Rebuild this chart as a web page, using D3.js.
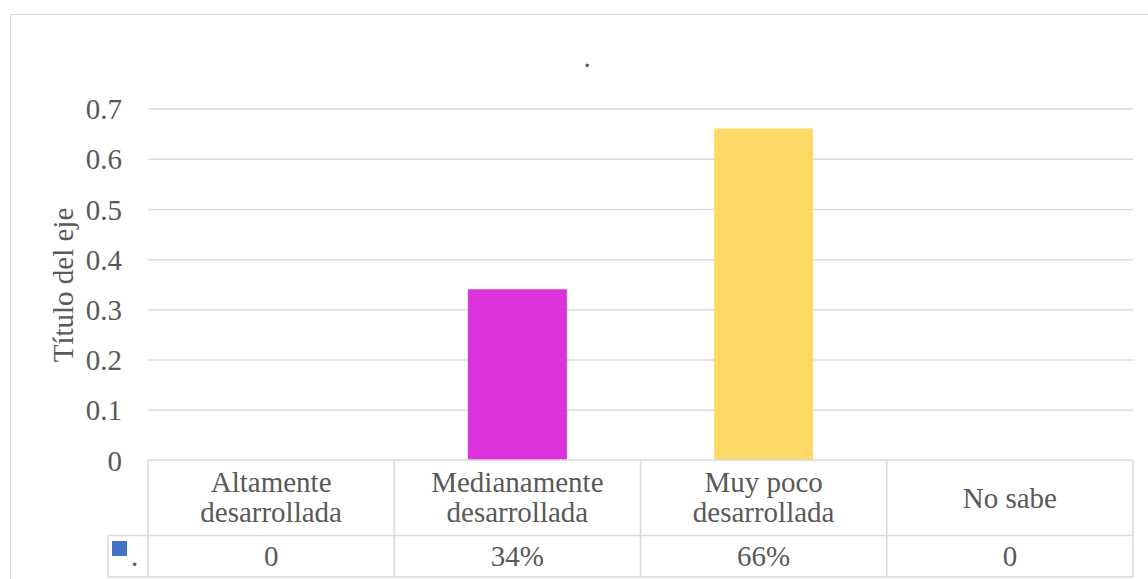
<!DOCTYPE html>
<html>
<head>
<meta charset="utf-8">
<script src="https://cdn.jsdelivr.net/npm/d3@7"></script>
<style>
  html, body { margin: 0; padding: 0; background: #fff; }
  svg text { font-family: "Liberation Serif", "Times New Roman", serif; fill: #595959; }
</style>
</head>
<body>
<svg id="chart" width="1148" height="579"></svg>
<script>
// ---- data ----
const categories = [["Altamente", "desarrollada"], ["Medianamente", "desarrollada"], ["Muy poco", "desarrollada"], ["No sabe"]];
const values = [0, 0.34, 0.66, 0];
const valueLabels = ["0", "34%", "66%", "0"];
const barColors = ["#4472C4", "#DC32DC", "#FFD966", "#A5A5A5"];
const yTicks = [0, 0.1, 0.2, 0.3, 0.4, 0.5, 0.6, 0.7];
const seriesName = ".";
const chartTitle = ".";
const yAxisTitle = "Título del eje";
const legendColor = "#4472C4";

// ---- layout ----
const svg = d3.select("#chart");
const W = 1148, H = 579;
const plot = { left: 148, right: 1133, top: 108.5, bottom: 460 };
const tableRow1Bottom = 535.5, tableBottom = 577, legendLeft = 108;
const fontSize = 29;
const grid = "#d9d9d9";
const serif = "'Liberation Serif', 'Times New Roman', serif";

// outer border
svg.append("rect").attr("x", 10.5).attr("y", 14.5).attr("width", W - 10).attr("height", H)
  .attr("fill", "none").attr("stroke", grid).attr("stroke-width", 1);

const x = d3.scaleBand().domain(d3.range(categories.length)).range([plot.left, plot.right]).paddingInner(0).paddingOuter(0);
const y = d3.scaleLinear().domain([0, 0.7]).range([plot.bottom, plot.top]);

// gridlines + tick labels
const yAxis = d3.axisLeft(y).tickValues(yTicks).tickSize(-(plot.right - plot.left)).tickPadding(26)
  .tickFormat(d => d === 0 ? "0" : d3.format(".1f")(d));
const gAxis = svg.append("g").attr("transform", `translate(${plot.left},0)`).call(yAxis)
  .attr("font-family", serif).attr("font-size", fontSize);
gAxis.select(".domain").remove();
gAxis.selectAll(".tick line").attr("stroke", grid).attr("stroke-width", 1.5)
  .filter(d => d === 0).remove();
gAxis.selectAll(".tick text").attr("font-size", fontSize).attr("fill", "#595959")
  .style("font-family", serif).attr("dy", "0.35em");

// bars
const barW = 99;
svg.append("g").selectAll("rect").data(values).join("rect")
  .attr("x", (d, i) => x(i) + x.bandwidth() / 2 - barW / 2)
  .attr("width", barW)
  .attr("y", d => y(d))
  .attr("height", d => y(0) - y(d))
  .attr("fill", (d, i) => barColors[i]);

// title
svg.append("text").attr("x", 587).attr("y", 67).attr("text-anchor", "middle")
  .attr("font-size", fontSize).text(chartTitle);

// y axis title
svg.append("text").attr("transform", `translate(73,285) rotate(-90)`).attr("text-anchor", "middle")
  .attr("font-size", fontSize).text(yAxisTitle);

// data table
const tg = svg.append("g").attr("fill", "none").attr("stroke", grid).attr("stroke-width", 1.5);
tg.append("line").attr("x1", plot.left).attr("x2", plot.right).attr("y1", plot.bottom).attr("y2", plot.bottom);
tg.append("line").attr("x1", legendLeft).attr("x2", plot.right).attr("y1", tableRow1Bottom).attr("y2", tableRow1Bottom);
tg.append("line").attr("x1", legendLeft).attr("x2", plot.right).attr("y1", tableBottom).attr("y2", tableBottom);
tg.append("line").attr("x1", legendLeft).attr("x2", legendLeft).attr("y1", tableRow1Bottom).attr("y2", tableBottom);
const colEdges = d3.range(categories.length + 1).map(i => i < categories.length ? x(i) : plot.right);
tg.selectAll("line.col").data(colEdges).join("line").attr("class", "col")
  .attr("x1", d => d).attr("x2", d => d).attr("y1", plot.bottom).attr("y2", tableBottom);

// category labels
const catG = svg.append("g");
categories.forEach((lines, i) => {
  const cx = x(i) + x.bandwidth() / 2;
  const t = catG.append("text").attr("text-anchor", "middle").attr("font-size", fontSize);
  if (lines.length === 2) {
    t.append("tspan").attr("x", cx).attr("y", 492).text(lines[0]);
    t.append("tspan").attr("x", cx).attr("y", 522).text(lines[1]);
  } else {
    t.append("tspan").attr("x", cx).attr("y", 508).text(lines[0]);
  }
});

// value labels
svg.append("g").selectAll("text").data(valueLabels).join("text")
  .attr("x", (d, i) => x(i) + x.bandwidth() / 2).attr("y", 566)
  .attr("text-anchor", "middle").attr("font-size", fontSize).text(d => d);

// legend key
svg.append("rect").attr("x", 112).attr("y", 541).attr("width", 15).attr("height", 15).attr("fill", legendColor);
svg.append("text").attr("x", 131).attr("y", 566).attr("font-size", fontSize).text(seriesName);
</script>
</body>
</html>
